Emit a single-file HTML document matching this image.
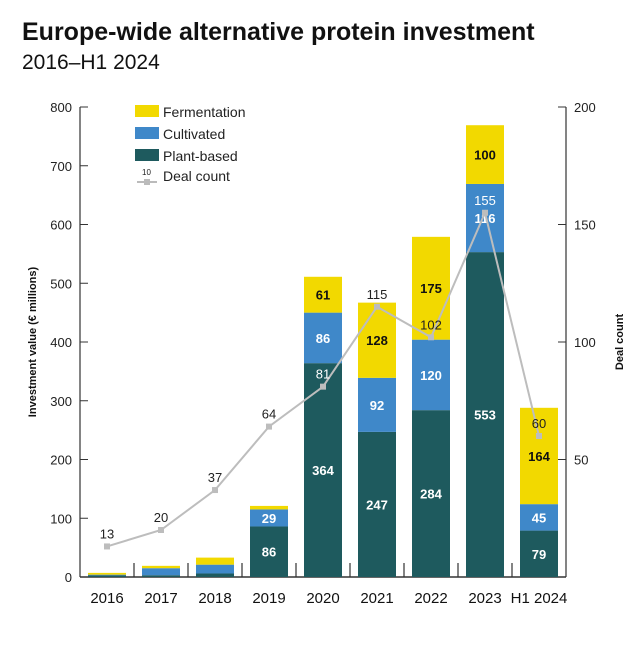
<!DOCTYPE html>
<html><head><meta charset="utf-8"><style>
body{margin:0;background:#fff;font-family:"Liberation Sans",sans-serif}
</style></head><body>
<svg width="640" height="640" viewBox="0 0 640 640" xmlns="http://www.w3.org/2000/svg" font-family="Liberation Sans, sans-serif">
<text x="22" y="40" font-size="25" font-weight="bold" fill="#111">Europe-wide alternative protein investment</text>
<text x="22" y="69" font-size="21" fill="#111">2016–H1 2024</text>
<g id="axes"></g>
<g id="bars"></g>
<g id="line"></g>
<g>
<rect x="135" y="105" width="24" height="12" fill="#f2d900"/>
<text x="163" y="117" font-size="14" fill="#222">Fermentation</text>
<rect x="135" y="127" width="24" height="12" fill="#3f88c9"/>
<text x="163" y="139" font-size="14" fill="#222">Cultivated</text>
<rect x="135" y="149" width="24" height="12" fill="#1e5a5e"/>
<text x="163" y="161" font-size="14" fill="#222">Plant-based</text>
<text x="142" y="175" font-size="8" fill="#222">10</text>
<line x1="137" y1="182" x2="157" y2="182" stroke="#bbb" stroke-width="2"/>
<rect x="144" y="179" width="6" height="6" fill="#bbb"/>
<text x="163" y="181" font-size="14" fill="#222">Deal count</text>
</g>
</svg>
<script>
const categories=["2016","2017","2018","2019","2020","2021","2022","2023","H1 2024"];
const plantBased=[3,3,6,86,364,247,284,553,79];
const cultivated=[1,12,15,29,86,92,120,116,45];
const fermentation=[3,4,12,6,61,128,175,100,164];
const dealCount=[13,20,37,64,81,115,102,155,60];
const leftTicks=[0,100,200,300,400,500,600,700,800];
const rightTicks=[50,100,150,200];
const NS="http://www.w3.org/2000/svg";
const X0=80,X1=566,Y0=577,Y1=107;
const band=(X1-X0)/categories.length;
const xc=i=>X0+band*(i+0.5);
const yL=v=>Y0-(v/800)*(Y0-Y1);
const yR=v=>Y0-(v/200)*(Y0-Y1);
function mk(tag,attrs,parent,txt){const e=document.createElementNS(NS,tag);for(const k in attrs)e.setAttribute(k,attrs[k]);if(txt!==undefined)e.textContent=txt;parent.appendChild(e);return e;}
const axes=document.getElementById('axes'),bars=document.getElementById('bars'),line=document.getElementById('line');
let e;
e=mk('line',{x1:X0,y1:Y1,x2:X0,y2:Y0,stroke:'#333','stroke-width':1.2},axes);


e=mk('line',{x1:X1,y1:Y1,x2:X1,y2:Y0,stroke:'#333','stroke-width':1.2},axes);


e=mk('line',{x1:X0,y1:Y0,x2:X1,y2:Y0,stroke:'#333','stroke-width':1.5},axes);


leftTicks.forEach(t=>{const y=yL(t);mk('line',{x1:X0,y1:y,x2:X0+8,y2:y,stroke:'#333'},axes);
e=mk('text',{x:X0-8,y:y+5,'font-size':13,'text-anchor':'end',fill:'#222'},axes,t);

});
rightTicks.forEach(t=>{const y=yR(t);mk('line',{x1:X1-8,y1:y,x2:X1,y2:y,stroke:'#333'},axes);
e=mk('text',{x:X1+8,y:y+5,'font-size':13,fill:'#222'},axes,t);

});
categories.forEach((c,i)=>{
 if(i>0)mk('line',{x1:X0+band*i,y1:Y0-14,x2:X0+band*i,y2:Y0,stroke:'#333','stroke-width':1.2},axes);
 e=mk('text',{x:xc(i),y:Y0+26,'font-size':15,'text-anchor':'middle',fill:'#111'},axes,c);
 
 
});
e=mk('text',{transform:`translate(36,342) rotate(-90)`,'font-size':11,'font-weight':'bold','text-anchor':'middle',fill:'#111'},axes,'Investment value (€ millions)');


e=mk('text',{transform:`translate(623,342) rotate(-90)`,'font-size':11,'font-weight':'bold','text-anchor':'middle',fill:'#111'},axes,'Deal count');


const bw=38;
categories.forEach((c,i)=>{
 const segs=[[plantBased[i],'#1e5a5e','#fff','plant'],[cultivated[i],'#3f88c9','#fff','cultivated'],[fermentation[i],'#f2d900','#111','fermentation']];
 let base=0;
 segs.forEach(s=>{
  const y0=yL(base),y1=yL(base+s[0]);
  e=mk('rect',{x:xc(i)-bw/2,y:y1,width:bw,height:y0-y1,fill:s[1]},bars);
  
  
  if(s[0]>=25){
   e=mk('text',{x:xc(i),y:(y0+y1)/2+5,'font-size':13,'font-weight':'bold','text-anchor':'middle',fill:s[2]},bars,s[0]);
   
   
  }
  base+=s[0];
 });
});
const pts=dealCount.map((v,i)=>xc(i)+','+yR(v)).join(' ');
e=mk('polyline',{points:pts,fill:'none',stroke:'#bdbdbd','stroke-width':2},line);


dealCount.forEach((v,i)=>{
 e=mk('rect',{x:xc(i)-3,y:yR(v)-3,width:6,height:6,fill:'#bdbdbd'},line);
 
 
 const inside=i>=4&&i!==5||i===5;
 e=mk('text',{x:xc(i),y:yR(v)-8,'font-size':13,'text-anchor':'middle',fill:(i===4||i===7)?'#fff':'#222'},line,v);
 
 
});
</script>
</body></html>
